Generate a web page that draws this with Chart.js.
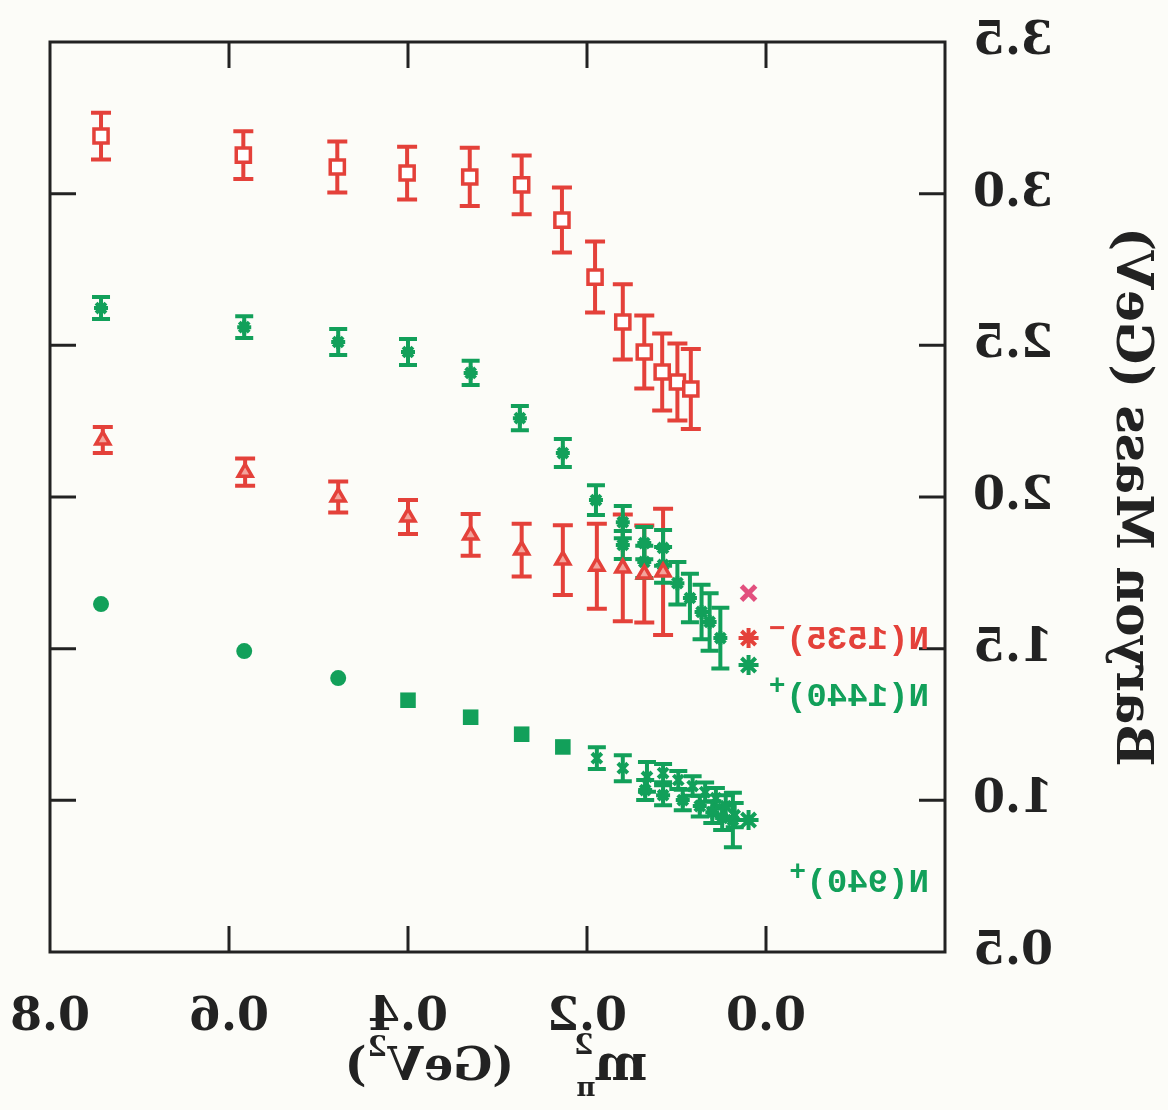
<!DOCTYPE html>
<html>
<head>
<meta charset="utf-8">
<script src="https://cdn.jsdelivr.net/npm/chart.js@4.4.1/dist/chart.umd.min.js"></script>
<style>
  html, body { margin: 0; padding: 0; background: #fcfcf8; }
  /* the reference picture is a mirror image, so the whole canvas is flipped */
  #chart { display: block; transform: scaleX(-1); }
</style>
</head>
<body>
<canvas id="chart" width="1168" height="1110"></canvas>
<script>
// m_pi^2 (GeV^2) and masses (GeV)
const xTicks = [-0.2, 0.0, 0.2, 0.4, 0.6, 0.8];
const yTicks = [0.5, 1.0, 1.5, 2.0, 2.5, 3.0, 3.5];

// red open squares (upper red band)
const xSq = [0.743, 0.584, 0.479, 0.401, 0.331, 0.273, 0.228, 0.191, 0.160, 0.136, 0.116, 0.099, 0.084];
const ySq = [3.19, 3.127, 3.088, 3.068, 3.055, 3.029, 2.913, 2.725, 2.577, 2.478, 2.412, 2.379, 2.356];
const eSq = [0.077, 0.079, 0.084, 0.087, 0.096, 0.097, 0.107, 0.117, 0.124, 0.120, 0.127, 0.127, 0.132];

// red triangles, N(1535)-
const xTri = [0.741, 0.582, 0.478, 0.400, 0.330, 0.273, 0.227, 0.189, 0.160, 0.136, 0.115];
const yTri = [2.188, 2.082, 2.000, 1.934, 1.875, 1.825, 1.792, 1.772, 1.766, 1.746, 1.753];
const eTri = [0.043, 0.045, 0.051, 0.056, 0.069, 0.087, 0.115, 0.140, 0.176, 0.160, 0.208];

// green stars, N(1440)+
const xRop = [0.743, 0.583, 0.478, 0.400, 0.330, 0.275, 0.227, 0.190, 0.160, 0.160, 0.136, 0.136, 0.115, 0.115, 0.099, 0.085, 0.072, 0.063, 0.051];
const yRop = [2.623, 2.560, 2.511, 2.478, 2.409, 2.260, 2.145, 1.990, 1.917, 1.842, 1.848, 1.786, 1.832, 1.776, 1.716, 1.667, 1.621, 1.588, 1.535];
const eRop = [0.036, 0.036, 0.043, 0.043, 0.040, 0.040, 0.046, 0.049, 0.053, 0.046, 0.053, 0.053, 0.059, 0.059, 0.070, 0.080, 0.090, 0.095, 0.100];

// green nucleon, N(940)+
const xNucCirc = [0.743, 0.583, 0.478];
const yNucCirc = [1.647, 1.492, 1.403];
const xNucSq = [0.400, 0.330, 0.273, 0.227];
const yNucSq = [1.330, 1.274, 1.218, 1.176];
const xNucA = [0.189, 0.160, 0.133, 0.115, 0.098, 0.082, 0.068, 0.056, 0.045, 0.035];
const yNucA = [1.139, 1.106, 1.077, 1.090, 1.067, 1.047, 1.027, 1.007, 0.981, 0.951];
const eNucA = [0.036, 0.043, 0.049, 0.030, 0.030, 0.032, 0.032, 0.034, 0.036, 0.040];
const xNucB = [0.135, 0.115, 0.093, 0.074, 0.060, 0.049, 0.037];
const yNucB = [1.034, 1.017, 1.001, 0.981, 0.961, 0.942, 0.935];
const eNucB = [0.033, 0.033, 0.034, 0.034, 0.036, 0.040, 0.090];

// physical points
const xPhys = 0.0195;
const yN1650 = 1.683;
const yN1535 = 1.535;
const yN1440 = 1.446;
const yN940 = 0.935;

// state labels: text, superscript, y position
const labelText = ['N(1535)', 'N(1440)', 'N(940)'];
const labelSup = ['\u2212', '+', '+'];
const labelY = [1.528, 1.340, 0.727];
const labelX = -0.182;

const RED = '#e4413a';
const GREEN = '#12a05a';
const PINK = '#e2507e';
const INK = '#222';

const pts = (xs, ys) => xs.map((x, i) => ({ x, y: ys[i] }));

const datasets = [
    { data: pts(xSq, ySq), err: eSq, pointStyle: 'rect', pointRadius: 10, borderWidth: 3.5,
      borderColor: RED, backgroundColor: '#fff', errColor: RED, cap: 10, errWidth: 4 },
    { data: pts(xTri, yTri), err: eTri, pointStyle: 'triangle', pointRadius: 8, borderWidth: 3.5,
      borderColor: RED, backgroundColor: '#f3a49c', errColor: RED, cap: 10, errWidth: 4 },
    { data: pts(xRop, yRop), err: eRop, pointStyle: 'star', pointRadius: 7, borderWidth: 4,
      borderColor: GREEN, backgroundColor: GREEN, errColor: GREEN, cap: 9, errWidth: 4 },
    { data: pts(xNucCirc, yNucCirc), pointStyle: 'circle', pointRadius: 8, borderWidth: 0,
      borderColor: GREEN, backgroundColor: GREEN },
    { data: pts(xNucSq, yNucSq), pointStyle: 'rect', pointRadius: 11, borderWidth: 0,
      borderColor: GREEN, backgroundColor: GREEN },
    { data: pts(xNucA, yNucA), err: eNucA, pointStyle: 'crossRot', pointRadius: 7, borderWidth: 4,
      borderColor: GREEN, backgroundColor: GREEN, errColor: GREEN, cap: 9, errWidth: 4 },
    { data: pts(xNucB, yNucB), err: eNucB, pointStyle: 'star', pointRadius: 7, borderWidth: 4,
      borderColor: GREEN, backgroundColor: GREEN, errColor: GREEN, cap: 9, errWidth: 4 },
    { data: [{ x: xPhys, y: yN1650 }], pointStyle: 'crossRot', pointRadius: 10, borderWidth: 5,
      borderColor: PINK, backgroundColor: PINK },
    { data: [{ x: xPhys, y: yN1535 }], pointStyle: 'star', pointRadius: 10, borderWidth: 4,
      borderColor: RED, backgroundColor: RED },
    { data: [{ x: xPhys, y: yN1440 }, { x: xPhys, y: yN940 }], pointStyle: 'star', pointRadius: 10, borderWidth: 4,
      borderColor: GREEN, backgroundColor: GREEN },
];

const errorBars = {
    id: 'errorBars',
    beforeDatasetsDraw(chart) {
        const ctx = chart.ctx;
        const y = chart.scales.y;
        chart.data.datasets.forEach((ds, di) => {
            if (!ds.err) return;
            const meta = chart.getDatasetMeta(di);
            ctx.save();
            ctx.strokeStyle = ds.errColor;
            ctx.lineWidth = ds.errWidth;
            meta.data.forEach((p, i) => {
                const v = ds.data[i].y, e = ds.err[i];
                const top = y.getPixelForValue(v + e), bot = y.getPixelForValue(v - e);
                ctx.beginPath();
                ctx.moveTo(p.x, top); ctx.lineTo(p.x, bot);
                ctx.moveTo(p.x - ds.cap, top); ctx.lineTo(p.x + ds.cap, top);
                ctx.moveTo(p.x - ds.cap, bot); ctx.lineTo(p.x + ds.cap, bot);
                ctx.stroke();
            });
            ctx.restore();
        });
    }
};

const frame = {
    id: 'frame',
    afterDraw(chart) {
        const { ctx, chartArea: a, scales } = chart;
        const len = 26;
        ctx.save();
        ctx.strokeStyle = INK;
        ctx.lineWidth = 3;
        ctx.strokeRect(a.left, a.top, a.right - a.left, a.bottom - a.top);
        ctx.beginPath();
        xTicks.forEach(v => {
            const px = scales.x.getPixelForValue(v);
            if (px <= a.left + 2 || px >= a.right - 2) return;
            ctx.moveTo(px, a.bottom); ctx.lineTo(px, a.bottom - len);
            ctx.moveTo(px, a.top); ctx.lineTo(px, a.top + len);
        });
        yTicks.forEach(v => {
            const py = scales.y.getPixelForValue(v);
            if (py <= a.top + 2 || py >= a.bottom - 2) return;
            ctx.moveTo(a.left, py); ctx.lineTo(a.left + len, py);
            ctx.moveTo(a.right, py); ctx.lineTo(a.right - len, py);
        });
        ctx.stroke();

        // state labels
        ctx.textBaseline = 'middle';
        labelText.forEach((t, i) => {
            const px = scales.x.getPixelForValue(labelX);
            const py = scales.y.getPixelForValue(labelY[i]);
            ctx.fillStyle = i === 0 ? RED : GREEN;
            ctx.font = 'bold 34px "Liberation Mono", "DejaVu Sans Mono", monospace';
            ctx.fillText(t, px, py);
            const w = ctx.measureText(t).width;
            ctx.font = 'bold 26px "DejaVu Sans Mono", monospace';
            ctx.fillText(labelSup[i], px + w + 1, py - 11);
        });

        // x axis title: m_pi^2 (GeV^2)
        const base = 1080;
        const big = 'bold 50px "DejaVu Serif", serif';
        const mid = 'bold 46px "DejaVu Serif", serif';
        const small = 'bold 28px "DejaVu Serif", serif';
        ctx.fillStyle = INK;
        ctx.textBaseline = 'alphabetic';
        ctx.font = big;
        const wm = ctx.measureText('m').width;
        ctx.font = mid;
        const wG = ctx.measureText('(GeV').width;
        const wP = ctx.measureText(')').width;
        ctx.font = small;
        const w2 = ctx.measureText('2').width;
        const gap = 60;
        const total = wm + w2 + gap + wG + w2 + wP;
        let cx = (a.left + a.right) / 2 - total / 2;
        ctx.font = big; ctx.fillText('m', cx, base); cx += wm + 1;
        ctx.font = small; ctx.fillText('2', cx, base - 26);
        ctx.font = 'bold 26px "DejaVu Serif", serif'; ctx.fillText('\u03c0', cx - 2, base + 16);
        cx += w2 + gap;
        ctx.font = mid; ctx.fillText('(GeV', cx, base); cx += wG;
        ctx.font = small; ctx.fillText('2', cx + 1, base - 24); cx += w2 + 2;
        ctx.font = mid; ctx.fillText(')', cx, base);
        ctx.restore();
    }
};

new Chart(document.getElementById('chart'), {
    type: 'scatter',
    data: { datasets },
    options: {
        responsive: false,
        animation: false,
        events: [],
        layout: { padding: { top: 42, right: 50, left: 0, bottom: 0 } },
        plugins: { legend: { display: false }, tooltip: { enabled: false } },
        scales: {
            x: {
                type: 'linear', min: -0.2, max: 0.8,
                afterFit: s => { s.height = 158; s.paddingLeft = 0; s.paddingRight = 0; },
                afterBuildTicks: s => { s.ticks = xTicks.map(v => ({ value: v })); },
                grid: { display: false }, border: { display: false },
                ticks: {
                    padding: 30, color: INK, maxRotation: 0,
                    font: { family: '"DejaVu Serif", serif', size: 46, weight: 'bold' },
                    callback: v => (v < -0.1 ? '' : v.toFixed(1)),
                },
            },
            y: {
                type: 'linear', min: 0.5, max: 3.5,
                afterFit: s => { s.width = 223; s.paddingTop = 0; s.paddingBottom = 0; },
                afterBuildTicks: s => { s.ticks = yTicks.map(v => ({ value: v })); },
                grid: { display: false }, border: { display: false },
                ticks: {
                    padding: 20, color: INK,
                    font: { family: '"DejaVu Serif", serif', size: 46, weight: 'bold' },
                    callback: v => v.toFixed(1),
                },
                title: {
                    display: true, text: 'Baryon Mass (GeV)', color: INK,
                    padding: { top: 8, bottom: 0 },
                    font: { family: '"DejaVu Serif", serif', size: 50, weight: 'bold' },
                },
            },
        },
    },
    plugins: [errorBars, frame],
});
</script>
</body>
</html>
